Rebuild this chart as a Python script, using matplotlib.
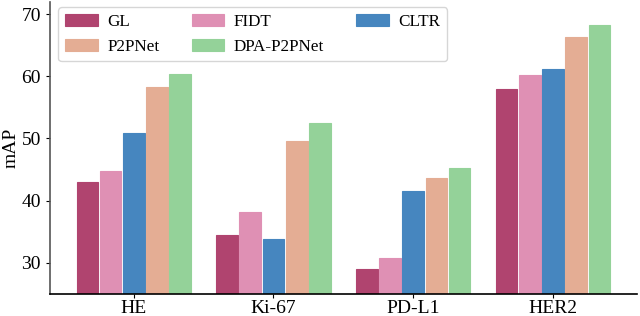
import numpy as np
import matplotlib
matplotlib.use("Agg")
import matplotlib.pyplot as plt

plt.rcParams["font.family"] = ["Liberation Serif", "DejaVu Serif"]

datasets = ["HE", "Ki-67", "PD-L1", "HER2"]
methods = ["GL", "FIDT", "CLTR", "P2PNet", "DPA-P2PNet"]
gl = [43.0, 34.4, 29.0, 57.9]
fidt = [44.7, 38.2, 30.7, 60.2]
cltr = [50.8, 33.8, 41.6, 61.1]
p2pnet = [58.2, 49.6, 43.6, 66.3]
dpa_p2pnet = [60.4, 52.4, 45.2, 68.3]
colors = ["#b0446f", "#df90b4", "#4686bf", "#e4ad94", "#94d299"]

series = [gl, fidt, cltr, p2pnet, dpa_p2pnet]
x = np.arange(len(datasets))
w = 0.155
step = 0.166

fig, ax = plt.subplots(figsize=(6.4, 3.16), dpi=100)
bars = []
for i, (name, vals, c) in enumerate(zip(methods, series, colors)):
    b = ax.bar(x + (i - 2) * step, vals, w, color=c, edgecolor=c,
               linewidth=0.8, label=name)
    bars.append(b)

ax.set_xlim(-0.6, 3.6)
ax.set_ylim(25, 72)
ax.set_yticks([30, 40, 50, 60, 70])
ax.set_xticks(x)
ax.set_xticklabels(datasets)
ax.tick_params(labelsize=14, length=3)
ax.tick_params(axis="x", pad=1.5)
ax.set_ylabel("mAP", fontsize=14, labelpad=1)
ax.spines["top"].set_visible(False)
ax.spines["right"].set_visible(False)
ax.spines["left"].set_color("#555555")
ax.spines["left"].set_linewidth(1.2)
ax.spines["bottom"].set_linewidth(1.2)

# row-major legend: GL, FIDT, CLTR / P2PNet, DPA-P2PNet
order = [0, 3, 1, 4, 2]
ax.legend([bars[k] for k in order], [methods[k] for k in order],
          ncol=3, loc="upper left", fontsize=12.3, frameon=True,
          handlelength=1.9, columnspacing=1.9, handletextpad=0.55,
          bbox_to_anchor=(0.0, 1.01), borderaxespad=0.5)

plt.subplots_adjust(left=0.078, right=0.995, top=0.995, bottom=0.07)
fig.savefig("out.png", dpi=100)
